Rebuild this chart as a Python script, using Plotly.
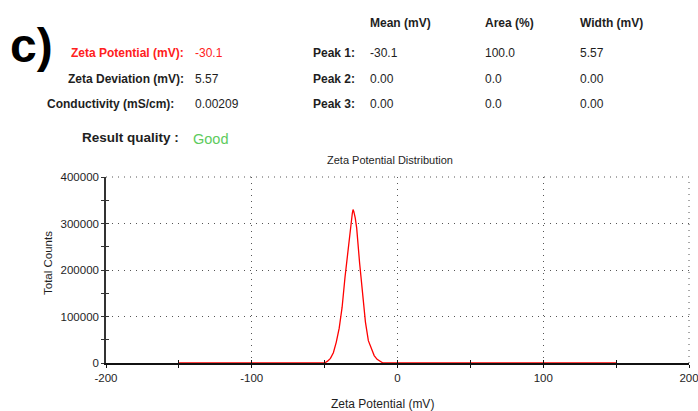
import plotly.graph_objects as go

# ---- data ----
zeta_mv = [-150, -50, -48, -46, -44, -42, -40, -38, -36, -34, -32, -31, -30.5, -30,
           -29, -28, -26, -24, -22, -20, -18, -16, -14, -12, -10, 150]
total_counts = [0, 0, 4000, 10000, 22000, 45000, 75000, 120000, 185000, 245000, 300000,
                322000, 330000, 326000, 312000, 290000, 215000, 145000, 88000, 48000,
                31000, 16000, 8000, 3000, 0, 0]

x_tickvals = [-200, -100, 0, 100, 200]
x_ticktext = ["-200", "-100", "0", "100", "200"]
y_tickvals = [0, 100000, 200000, 300000, 400000]
y_ticktext = ["0", "100000", "200000", "300000", "400000"]

summary_labels = ["Zeta Potential (mV):", "Zeta Deviation (mV):", "Conductivity (mS/cm):"]
summary_values = ["-30.1", "5.57", "0.00209"]
peak_headers = ["Mean (mV)", "Area (%)", "Width (mV)"]
peak_labels = ["Peak 1:", "Peak 2:", "Peak 3:"]
peak_mean = ["-30.1", "0.00", "0.00"]
peak_area = ["100.0", "0.0", "0.0"]
peak_width = ["5.57", "0.00", "0.00"]
quality_label = "Result quality :"
quality_value = "Good"
panel_label = "c)"
chart_title = "Zeta Potential Distribution"
x_title = "Zeta Potential (mV)"
y_title = "Total Counts"

# ---- layout geometry ----
W, H = 698, 411
L, R, T, B = 106, 9, 177, 48
PW, PH = W - L - R, H - T - B
FONT = "Liberation Sans, Arial, sans-serif"
DARK = "#1e1e1e"
GRID = "#555555"
DOTS = "1px,5px"


def px(x):
    return (x - L) / PW


def py(y):
    return (H - B - y) / PH


annotations = []


def add_text(text, x, y, size=12, color=DARK, xanchor="left", bold=False, textangle=0):
    annotations.append(dict(
        text=("<b>%s</b>" % text) if bold else text,
        x=px(x), y=py(y), xref="paper", yref="paper",
        xanchor=xanchor, yanchor="middle", showarrow=False,
        textangle=textangle,
        font=dict(family=FONT, size=size, color=color),
    ))


# panel label
add_text(panel_label, 8, 45, size=48, color="#000000", bold=True)

# summary block
label_right = [186, 186, 176]
row_y = [53, 79, 104]
label_colors = ["#ff2020", DARK, DARK]
for lab, val, xr, yy, col in zip(summary_labels, summary_values, label_right, row_y, label_colors):
    add_text(lab, xr, yy, size=12, color=col, xanchor="right", bold=True)
    add_text(val, 193, yy, size=12, color=col)

# peaks table
col_x = [368, 483, 578]
for hdr, xx in zip(peak_headers, col_x):
    add_text(hdr, xx, 23, size=12, bold=True)
for i, yy in enumerate(row_y):
    add_text(peak_labels[i], 311, yy, size=12, bold=True)
    add_text(peak_mean[i], col_x[0], yy, size=12)
    add_text(peak_area[i], col_x[1], yy, size=12)
    add_text(peak_width[i], col_x[2], yy, size=12)

# result quality
add_text(quality_label, 181, 137, size=13.5, xanchor="right", bold=True)
add_text(quality_value, 191, 139, size=14.5, color="#5dcb5d")

# titles
add_text(chart_title, 390, 160, size=11, xanchor="center")
add_text(x_title, 382, 404, size=12, xanchor="center")
add_text(y_title, 48, 263, size=11.5, xanchor="center", textangle=-90)

fig = go.Figure()
fig.add_trace(go.Scatter(
    x=zeta_mv, y=total_counts, mode="lines",
    line=dict(color="#ff0000", width=1.3),
    cliponaxis=False, hoverinfo="skip", showlegend=False,
))
# invisible copy on the overlay axes (to carry the inward half of the ticks)
fig.add_trace(go.Scatter(
    x=zeta_mv, y=total_counts, mode="lines", xaxis="x2", yaxis="y2",
    line=dict(color="rgba(0,0,0,0)", width=0), hoverinfo="skip", showlegend=False,
))

grid = dict(showgrid=True, gridcolor=GRID, gridwidth=1, griddash=DOTS)
tickfont = dict(family=FONT, size=11.5, color=DARK)
XR = [-200, 200]
YR = [0, 400000]

# dotted frame lines on the top and right edges (continuation of the grid)
edge_shapes = [
    dict(type="line", xref="paper", yref="paper", x0=0, x1=1, y0=1, y1=1,
         line=dict(color=GRID, width=1, dash=DOTS), layer="below"),
    dict(type="line", xref="paper", yref="paper", x0=1, x1=1, y0=0, y1=1,
         line=dict(color=GRID, width=1, dash=DOTS), layer="below"),
]

fig.update_layout(
    width=W, height=H,
    margin=dict(l=L, r=R, t=T, b=B, autoexpand=False),
    paper_bgcolor="white", plot_bgcolor="white",
    annotations=annotations,
    shapes=edge_shapes,
    xaxis=dict(
        range=XR, tickmode="array", tickvals=x_tickvals, ticktext=x_ticktext,
        zeroline=False, ticklabeloverflow="allow",
        showline=True, linecolor="#111111", linewidth=1.5, layer="below traces",
        ticks="outside", ticklen=3, tickwidth=1, tickcolor="#111111",
        minor=dict(dtick=50, tick0=-200, ticks="outside", ticklen=3, tickcolor="#111111", showgrid=False),
        tickfont=tickfont, **grid,
    ),
    yaxis=dict(
        range=YR, tickmode="array", tickvals=y_tickvals, ticktext=y_ticktext,
        zeroline=False, ticklabeloverflow="allow",
        showline=True, linecolor="#333333", linewidth=1.5, layer="below traces",
        ticks="outside", ticklen=3, tickwidth=1, tickcolor="#333333",
        minor=dict(dtick=50000, tick0=0, ticks="outside", ticklen=3, tickcolor="#333333", showgrid=False),
        tickfont=tickfont, **grid,
    ),
    xaxis2=dict(
        range=XR, overlaying="x", anchor="y", showgrid=False, zeroline=False,
        showticklabels=False, ticks="inside", ticklen=3, tickcolor="#111111", dtick=50,
        tick0=-200, showline=False,
    ),
    yaxis2=dict(
        range=YR, overlaying="y", anchor="x", side="left", showgrid=False,
        zeroline=False, showticklabels=False, ticks="inside", ticklen=3,
        tickcolor="#333333", dtick=50000, tick0=0, showline=False,
    ),
)

fig.write_html("out.html")
